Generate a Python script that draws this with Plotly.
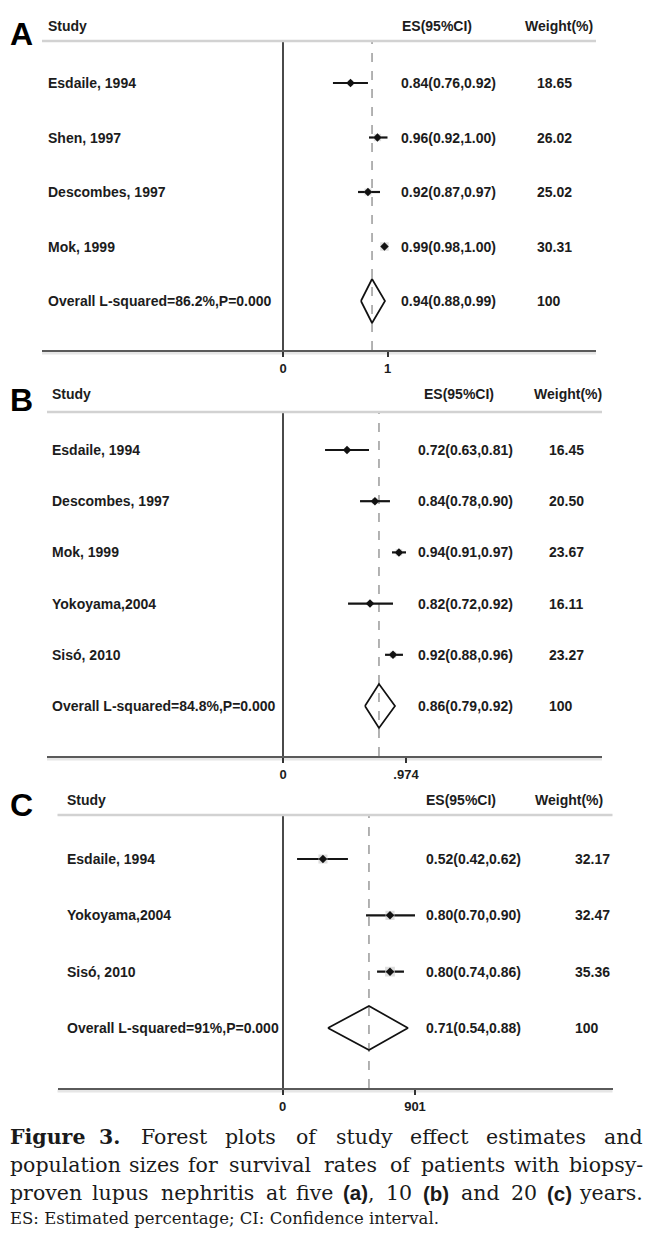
import plotly.graph_objects as go

W, H = 652, 1237


def px(x):
    return x / W


def py(y):
    return 1 - y / H


# ---------------- data ----------------
# Panel A (five years)
studies_a = ["Esdaile, 1994", "Shen, 1997", "Descombes, 1997", "Mok, 1999"]
overall_label_a = "Overall L-squared=86.2%,P=0.000"
es_a = [0.84, 0.96, 0.92, 0.99, 0.94]
es_lo_a = [0.76, 0.92, 0.87, 0.98, 0.88]
es_hi_a = [0.92, 1.00, 0.97, 1.00, 0.99]
weights_a = [18.65, 26.02, 25.02, 30.31]
# positions of the marks as drawn on the panel's axis
mark_est_a = [0.646, 0.904, 0.813, 0.971]
mark_lo_a = [0.478, 0.823, 0.718, 0.960]
mark_hi_a = [0.813, 1.000, 0.928, 0.980]
overall_mark_a = [0.746, 0.852, 0.976]
tickvals_a = [0, 1]
ticktext_a = ["0", "1"]

# Panel B (ten years)
studies_b = ["Esdaile, 1994", "Descombes, 1997", "Mok, 1999", "Yokoyama,2004", "Sisó, 2010"]
overall_label_b = "Overall L-squared=84.8%,P=0.000"
es_b = [0.72, 0.84, 0.94, 0.82, 0.92, 0.86]
es_lo_b = [0.63, 0.78, 0.91, 0.72, 0.88, 0.79]
es_hi_b = [0.81, 0.90, 0.97, 0.92, 0.96, 0.92]
weights_b = [16.45, 20.50, 23.67, 16.11, 23.27]
mark_est_b = [0.507, 0.728, 0.918, 0.689, 0.871]
mark_lo_b = [0.333, 0.610, 0.863, 0.515, 0.808]
mark_hi_b = [0.681, 0.847, 0.974, 0.871, 0.950]
overall_mark_b = [0.649, 0.760, 0.887]
tickvals_b = [0, 0.974]
ticktext_b = ["0", ".974"]

# Panel C (twenty years)
studies_c = ["Esdaile, 1994", "Yokoyama,2004", "Sisó, 2010"]
overall_label_c = "Overall L-squared=91%,P=0.000"
es_c = [0.52, 0.80, 0.80, 0.71]
es_lo_c = [0.42, 0.70, 0.74, 0.54]
es_hi_c = [0.62, 0.90, 0.86, 0.88]
weights_c = [32.17, 32.47, 35.36]
mark_est_c = [0.275, 0.731, 0.731]
mark_lo_c = [0.099, 0.568, 0.643]
mark_hi_c = [0.445, 0.901, 0.826]
overall_mark_c = [0.309, 0.588, 0.853]
tickvals_c = [0, 0.901]
ticktext_c = ["0", "901"]

# ---------------- layout geometry (pixels) ----------------
panels = [
    dict(letter="A", studies=studies_a, overall=overall_label_a, es=es_a, lo=es_lo_a, hi=es_hi_a,
         w=weights_a, me=mark_est_a, ml=mark_lo_a, mh=mark_hi_a, om=overall_mark_a,
         tv=tickvals_a, tt=ticktext_a,
         x0=42, x1=596, top=41, bot=350, row1=83, rowN=301, zero=283, tickpx=387.5,
         letter_y=34, head_y=26, study_x=46, es_x=399, w_x=535, eshead_x=400, whead_x=523),
    dict(letter="B", studies=studies_b, overall=overall_label_b, es=es_b, lo=es_lo_b, hi=es_hi_b,
         w=weights_b, me=mark_est_b, ml=mark_lo_b, mh=mark_hi_b, om=overall_mark_b,
         tv=tickvals_b, tt=ticktext_b,
         x0=47, x1=602, top=412, bot=756, row1=450, rowN=706, zero=283, tickpx=406,
         letter_y=400, head_y=394, study_x=50, es_x=416, w_x=547, eshead_x=422, whead_x=532),
    dict(letter="C", studies=studies_c, overall=overall_label_c, es=es_c, lo=es_lo_c, hi=es_hi_c,
         w=weights_c, me=mark_est_c, ml=mark_lo_c, mh=mark_hi_c, om=overall_mark_c,
         tv=tickvals_c, tt=ticktext_c,
         x0=57.5, x1=612.5, top=815, bot=1088, row1=859, rowN=1028, zero=282.5, tickpx=415,
         letter_y=805, head_y=800, study_x=65, es_x=424, w_x=573, eshead_x=424, whead_x=533),
]

SANS = "Liberation Sans, Arial, sans-serif"
TXT = "#1c1c1c"

fig = go.Figure()
layout = dict(
    width=W, height=H, margin=dict(l=0, r=0, t=0, b=0),
    paper_bgcolor="white", plot_bgcolor="rgba(0,0,0,0)", showlegend=False,
)
annotations = []
shapes = []

for i, p in enumerate(panels):
    suf = "" if i == 0 else str(i + 1)
    xa, ya = "x" + suf, "y" + suf
    n = len(p["studies"])
    rows = list(range(1, n + 2))
    upp = (p["tickpx"] - p["zero"]) / p["tv"][1]
    xr = [(p["x0"] - p["zero"]) / upp, (p["x1"] - p["zero"]) / upp]
    rpx = (p["rowN"] - p["row1"]) / n
    yr = [n + 1 + (p["bot"] - p["rowN"]) / rpx, 1 - (p["row1"] - p["top"]) / rpx]

    layout["xaxis" + suf] = dict(
        domain=[px(p["x0"]), px(p["x1"])], range=xr, anchor=ya,
        showgrid=False, zeroline=True, zerolinecolor="#4a4a4a", zerolinewidth=1.5,
        showline=True, linecolor="#5a5a5a", linewidth=2.2,
        ticks="outside", ticklen=5, tickwidth=1.6, tickcolor="#333",
        tickvals=p["tv"], ticktext=p["tt"],
        tickfont=dict(family=SANS, size=13, color=TXT, weight="bold"),
        fixedrange=True,
    )
    layout["yaxis" + suf] = dict(
        domain=[py(p["bot"]), py(p["top"])], range=yr, anchor=xa,
        visible=False, showgrid=False, zeroline=False, fixedrange=True,
    )

    # CI lines
    xs, ys = [], []
    for r, lo, hi in zip(rows, p["ml"], p["mh"]):
        xs += [lo, hi, None]
        ys += [r, r, None]
    fig.add_trace(go.Scatter(x=xs, y=ys, mode="lines", line=dict(color="#151515", width=2.2),
                             xaxis=xa, yaxis=ya, hoverinfo="skip"))
    # weight boxes
    fig.add_trace(go.Scatter(x=p["me"], y=rows[:n], mode="markers",
                             marker=dict(symbol="square", size=[w * 0.28 for w in p["w"]],
                                         color="#d0d0d0", line=dict(width=0)),
                             xaxis=xa, yaxis=ya, hoverinfo="skip"))
    # point estimates
    fig.add_trace(go.Scatter(x=p["me"], y=rows[:n], mode="markers",
                             marker=dict(symbol="diamond", size=6.5, color="#111", line=dict(width=0)),
                             xaxis=xa, yaxis=ya, hoverinfo="skip"))
    # overall diamond
    lo, mid, hi = p["om"]
    r = n + 1
    hh = 22 / rpx
    fig.add_trace(go.Scatter(x=[lo, mid, hi, mid, lo], y=[r, r - hh, r, r + hh, r], mode="lines",
                             line=dict(color="#111", width=1.7), xaxis=xa, yaxis=ya, hoverinfo="skip"))
    # dashed reference line at overall estimate
    shapes.append(dict(type="line", xref=xa, yref=ya + " domain", x0=mid, x1=mid, y0=0, y1=1,
                       line=dict(color="#8a8a8a", width=1.3, dash="dash"), layer="below"))
    # header rule and axis shadow
    shapes.append(dict(type="line", xref="paper", yref="paper", x0=px(p["x0"]), x1=px(p["x1"]),
                       y0=py(p["top"]), y1=py(p["top"]), line=dict(color="#d2d2d2", width=2.5)))
    shapes.append(dict(type="line", xref="paper", yref="paper", x0=px(p["x0"]), x1=px(p["x1"]),
                       y0=py(p["bot"] + 3), y1=py(p["bot"] + 3), line=dict(color="#e6e6e6", width=3),
                       layer="below"))

    font = dict(family=SANS, size=14, color=TXT, weight="bold")
    annotations.append(dict(text=p["letter"], x=px(21), y=py(p["letter_y"]), xref="paper", yref="paper",
                            xanchor="center", yanchor="middle", showarrow=False,
                            font=dict(family=SANS, size=32, color="#000", weight="bold")))
    for txt, hx in (("Study", p["study_x"]), ("ES(95%CI)", p["eshead_x"]), ("Weight(%)", p["whead_x"])):
        annotations.append(dict(text=txt, x=px(hx), y=py(p["head_y"]), xref="paper", yref="paper",
                                xanchor="left", yanchor="middle", showarrow=False,
                                font=dict(family=SANS, size=14, color=TXT, weight="bold")))
    labels = p["studies"] + [p["overall"]]
    wtxt = ["%.2f" % w for w in p["w"]] + ["100"]
    for r, lab, e, l, h, wt in zip(rows, labels, p["es"], p["lo"], p["hi"], wtxt):
        annotations.append(dict(text=lab, x=px(p["study_x"]), y=r, xref="paper", yref=ya,
                                xanchor="left", yanchor="middle", showarrow=False, font=font))
        annotations.append(dict(text="%.2f(%.2f,%.2f)" % (e, l, h), x=px(p["es_x"]), y=r,
                                xref="paper", yref=ya, xanchor="left", yanchor="middle",
                                showarrow=False, font=font))
        annotations.append(dict(text=wt, x=px(p["w_x"]), y=r, xref="paper", yref=ya,
                                xanchor="left", yanchor="middle", showarrow=False, font=font))

# ---------------- caption (justified word by word) ----------------
SERIF = "DejaVu Serif, serif"
CAP_SIZE = 20.5
BS = '<span style="font-family:Liberation Sans;font-weight:bold">%s</span>'
# (word, approximate rendered width in px at 20px) -- used only to spread words evenly
caption = [
    (1137, [("<b>Figure</b>", 68), ("<b>3.</b>", 22), ("Forest", 63), ("plots", 50), ("of", 20),
            ("study", 54), ("effect", 55), ("estimates", 100), ("and", 38)]),
    (1165, [("population", 106), ("sizes", 48), ("for", 29), ("survival", 83), ("rates", 54),
            ("of", 21), ("patients", 80), ("with", 46), ("biopsy-", 74)]),
    (1193, [("proven", 70), ("lupus", 57), ("nephritis", 93), ("at", 19), ("five", 36),
            (BS % "(a)" + ",", 32), ("10", 26), (BS % "(b)", 27), ("and", 38), ("20", 25),
            (BS % "(c)", 25), ("years.", 63)]),
]
LEFT, RIGHT = 8, 645
for yy, words in caption:
    widths = [w * CAP_SIZE / 20 for _, w in words]
    gap = (RIGHT - LEFT - sum(widths)) / (len(words) - 1)
    x = LEFT
    for k, ((wtxt, _), ww) in enumerate(zip(words, widths)):
        last = k == len(words) - 1
        annotations.append(dict(text=wtxt, x=px(RIGHT if last else x), y=py(yy), xref="paper", yref="paper",
                                xanchor="right" if last else "left", yanchor="middle",
                                showarrow=False, font=dict(family=SERIF, size=CAP_SIZE, color="#1a1a1a")))
        x += ww + gap
annotations.append(dict(text="ES: Estimated percentage; CI: Confidence interval.", x=px(8), y=py(1218),
                        xref="paper", yref="paper", xanchor="left", yanchor="middle", showarrow=False,
                        font=dict(family=SERIF, size=16.5, color="#1a1a1a")))

layout["annotations"] = annotations
layout["shapes"] = shapes
fig.update_layout(**layout)
fig.write_html("out.html", config={"displayModeBar": False},
               post_script="document.body.style.margin='0px';document.body.style.padding='0px';")
